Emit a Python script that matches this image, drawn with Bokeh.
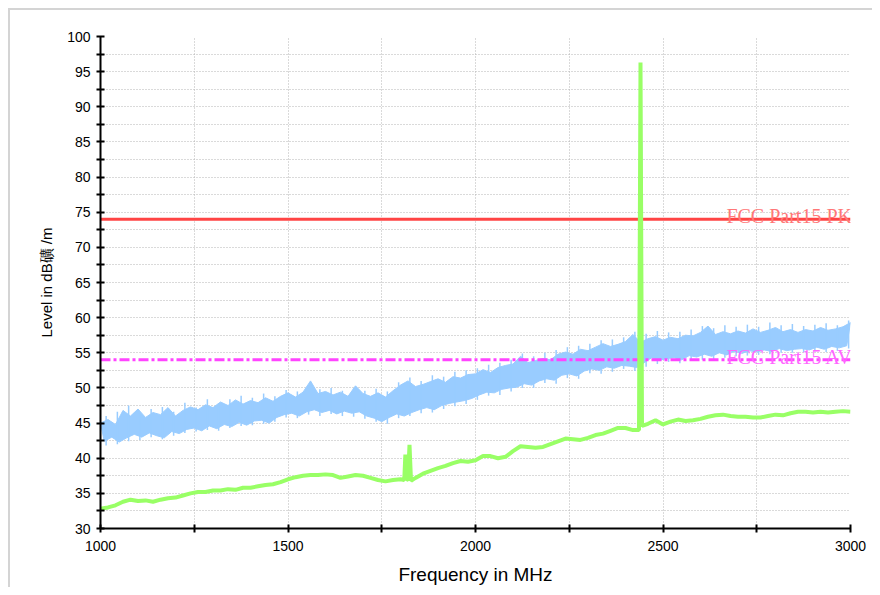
from bokeh.plotting import figure
from bokeh.models import FixedTicker, Label
from bokeh.embed import file_html
from bokeh.resources import INLINE

# ---------------- data ----------------
# Peak trace (blue) as upper envelope (every 20 MHz from 1000) and lower envelope (every 20 MHz from 1010)
blue_hi_f = list(range(1000, 3001, 20))
blue_hi = [45.0, 45.5, 44.8, 46.8, 46.0, 47.0, 45.8, 46.5, 46.2, 47.2,
           46.0, 46.8, 47.3, 46.9, 47.6, 47.2, 48.0, 47.5, 48.3, 47.7,
           48.2, 47.9, 48.6, 48.1, 48.8, 49.3, 48.7, 49.4, 51.0, 49.2,
           49.5, 49.0, 49.4, 48.8, 50.3, 49.2, 48.8, 49.3, 48.7, 49.6,
           50.4, 51.0, 50.2, 50.5, 50.9, 51.3, 50.8, 51.6, 51.4, 51.9,
           52.0, 52.6, 52.2, 52.9, 53.2, 53.4, 54.5, 53.6, 53.9, 54.2,
           54.0, 54.8, 55.1, 54.8, 55.5, 55.3, 55.8, 56.3, 55.9, 56.2,
           56.6, 57.6, 56.5, 57.0, 57.3, 56.8, 57.2, 57.0, 57.5, 57.4,
           57.9, 58.8, 57.6, 58.0, 57.7, 58.1, 57.8, 58.4, 57.9, 58.2,
           58.6, 58.0, 58.3, 57.9, 58.3, 58.1, 58.6, 58.2, 58.4, 58.7,
           59.3]
blue_lo_f = list(range(1010, 3000, 20))
blue_lo = [42.4, 43.0, 42.3, 42.9, 43.4, 43.0, 43.6, 43.2, 42.9, 43.8,
           43.5, 44.1, 44.3, 43.9, 44.6, 44.2, 44.8, 44.5, 45.1, 44.7,
           45.3, 45.4, 45.0, 45.8, 46.2, 46.4, 46.0, 46.6, 46.9, 46.5,
           46.8, 46.3, 46.7, 46.4, 46.6, 46.0, 45.7, 45.2, 45.8, 46.3,
           46.0, 46.5, 46.9, 47.2, 46.9, 47.5, 47.8, 48.0, 48.2, 48.5,
           49.0, 49.4, 49.3, 49.8, 50.0, 50.1, 50.6, 50.4, 51.0, 51.3,
           51.1, 51.8, 52.0, 51.7, 52.4, 52.7, 52.5, 53.0, 52.8, 53.2,
           53.1, 52.9, 53.6, 54.3, 53.9, 54.2, 54.3, 54.0, 54.6, 54.4,
           54.8, 54.5, 55.0, 54.7, 55.2, 54.9, 55.3, 55.1, 55.4, 55.2,
           55.6, 55.3, 55.5, 55.6, 55.4, 55.8, 55.5, 55.9, 55.7, 56.0]
# individual noise spikes of the peak trace (every 30 MHz from 1015): min and max
blue_spike_f = list(range(1015, 3000, 30))
blue_spike_max = [46.0, 46.6, 47.5, 46.4, 47.0, 47.3, 46.6, 47.9, 47.2, 48.4,
                  47.8, 48.4, 48.9, 48.6, 49.2, 48.8, 49.7, 49.5, 50.1, 49.8,
                  50.0, 49.6, 50.0, 49.6, 49.9, 49.5, 50.8, 51.5, 51.0, 51.8,
                  51.6, 52.3, 52.5, 52.8, 53.3, 53.6, 54.0, 54.9, 54.5, 55.0,
                  55.4, 55.8, 56.0, 56.3, 56.8, 56.9, 57.2, 58.0, 57.7, 58.1,
                  57.9, 58.0, 58.3, 58.8, 58.5, 58.9, 58.7, 59.0, 58.7, 59.3,
                  58.9, 59.1, 58.8, 59.0, 59.2, 58.9, 59.6]
blue_spike_min = [41.8, 42.0, 42.4, 42.6, 43.0, 42.7, 43.2, 43.6, 43.8, 44.0,
                  43.9, 44.3, 44.6, 44.7, 44.9, 45.2, 45.8, 45.7, 46.2, 46.0,
                  46.3, 46.0, 45.9, 45.6, 45.2, 44.9, 45.7, 46.0, 46.4, 46.5,
                  47.0, 47.4, 47.7, 48.3, 48.9, 49.0, 49.5, 50.0, 50.0, 50.7,
                  50.6, 51.4, 51.3, 52.1, 52.0, 52.3, 52.7, 52.4, 53.0, 53.4,
                  53.7, 53.5, 54.1, 54.0, 54.1, 54.3, 54.5, 54.6, 54.7, 54.8,
                  55.0, 55.0, 55.1, 55.2, 55.1, 55.3, 55.6]
blue_peak_f = [2441, 2441]
blue_peak = [55.0, 85.0]

# Average trace (green)
green_f = [1000, 1020, 1040, 1060, 1080, 1100, 1120, 1140, 1160, 1180,
           1200, 1220, 1240, 1260, 1280, 1300, 1320, 1340, 1360, 1380,
           1400, 1420, 1440, 1460, 1480, 1500, 1520, 1540, 1560, 1580,
           1600, 1620, 1640, 1660, 1680, 1700, 1720, 1740, 1760, 1780,
           1800, 1810, 1813, 1816, 1820, 1824, 1828, 1840, 1860, 1880,
           1900, 1920, 1940, 1960, 1980, 2000, 2020, 2040, 2060, 2080,
           2100, 2120, 2140, 2160, 2180, 2200, 2220, 2240, 2260, 2280,
           2300, 2320, 2340, 2360, 2380, 2400, 2420, 2436, 2440, 2444,
           2460, 2480, 2500, 2520, 2540, 2560, 2580, 2600, 2620, 2640,
           2660, 2680, 2700, 2720, 2740, 2760, 2780, 2800, 2820, 2840,
           2860, 2880, 2900, 2920, 2940, 2960, 2980, 3000]
green = [32.8, 33.0, 33.3, 33.8, 34.1, 33.9, 34.0, 33.8, 34.1, 34.3,
         34.4, 34.7, 35.0, 35.2, 35.2, 35.4, 35.4, 35.6, 35.5, 35.8,
         35.8, 36.0, 36.2, 36.3, 36.6, 37.0, 37.3, 37.5, 37.6, 37.6,
         37.7, 37.6, 37.2, 37.4, 37.6, 37.5, 37.2, 36.9, 36.7, 36.9,
         37.0, 36.9, 40.5, 36.9, 37.0, 41.9, 36.8, 37.2, 37.8, 38.2,
         38.6, 38.9, 39.3, 39.6, 39.5, 39.7, 40.3, 40.3, 40.0, 40.2,
         41.0, 41.7, 41.6, 41.5, 41.6, 42.0, 42.4, 42.8, 42.7, 42.6,
         42.9, 43.3, 43.5, 43.9, 44.3, 44.3, 44.0, 44.0, 96.3, 44.6,
         44.9, 45.4, 44.8, 45.2, 45.5, 45.3, 45.4, 45.6, 45.9, 46.1,
         46.2, 46.0, 45.9, 45.9, 45.8, 45.8, 46.0, 46.2, 46.1, 46.4,
         46.6, 46.6, 46.5, 46.6, 46.5, 46.6, 46.7, 46.6]

# Limit lines
limit_f = [1000, 3000]
pk_limit = [74, 74]
av_limit = [54, 54]
pk_text = "FCC Part15 PK"
av_text = "FCC Part15 AV"

x_major = [1000, 1500, 2000, 2500, 3000]
x_minor = [1250, 1750, 2250, 2750]
y_major = [30, 35, 40, 45, 50, 55, 60, 65, 70, 75, 80, 85, 90, 95, 100]
y_minor = [32.5, 37.5, 42.5, 47.5, 52.5, 57.5, 62.5, 67.5, 72.5, 77.5, 82.5, 87.5, 92.5, 97.5]

# ---------------- figure ----------------
p = figure(width=872, height=587, output_backend="svg", toolbar_location=None,
           x_range=(1000, 3000), y_range=(30, 100),
           min_border_left=100, min_border_right=22, min_border_top=36, min_border_bottom=52,
           background_fill_color="white", border_fill_color=None,
           styles={"background-color": "white",
                   "box-shadow": "inset 8px 8px 0 0 #ffffff, inset 10px 10px 0 0 #d4d4d4"})
p.outline_line_color = None

font = "Liberation Sans"
for ax in (p.xaxis[0], p.yaxis[0]):
    ax.axis_line_width = 2
    ax.axis_line_color = "black"
    ax.major_tick_line_width = 2
    ax.minor_tick_line_width = 2
    ax.major_tick_in = 4
    ax.major_tick_out = 4
    ax.minor_tick_in = 4
    ax.minor_tick_out = 4
    ax.major_label_text_font = font
    ax.major_label_text_font_size = "14px"
    ax.major_label_text_color = "black"
    ax.axis_label_text_font = font
    ax.axis_label_text_font_style = "normal"
    ax.axis_label_text_color = "black"

p.xaxis.ticker = FixedTicker(ticks=x_major, minor_ticks=x_minor)
p.yaxis.ticker = FixedTicker(ticks=y_major, minor_ticks=y_minor)
p.xaxis.axis_label = "Frequency in MHz"
p.xaxis.axis_label_text_font_size = "19px"
p.xaxis.axis_label_standoff = 10
p.xaxis.major_label_standoff = 8
p.yaxis.axis_label = "Level in dB礦 /m"
p.yaxis.axis_label_text_font_size = "15px"
p.yaxis.axis_label_standoff = 9
p.yaxis.major_label_standoff = 6

for g in (p.xgrid[0], p.ygrid[0]):
    g.grid_line_color = "#b4b4b4"
    g.grid_line_dash = "1 2"
    g.grid_line_width = 1
    g.minor_grid_line_color = "#b4b4b4"
    g.minor_grid_line_dash = "1 2"
    g.minor_grid_line_width = 1

# blue band: upper envelope forward, lower envelope backward
band_x = blue_hi_f + blue_lo_f[::-1]
band_y = blue_hi + blue_lo[::-1]
p.patch(band_x, band_y, fill_color="#99ccff", line_color="#99ccff", line_width=1)
p.segment(x0=blue_spike_f, y0=blue_spike_min, x1=blue_spike_f, y1=blue_spike_max,
          line_color="#99ccff", line_width=1.5)
p.line(blue_peak_f, blue_peak, line_color="#99ccff", line_width=3)

p.line(limit_f, pk_limit, line_color="#ff4444", line_width=3)
p.line(limit_f, av_limit, line_color="#ff44ff", line_width=3, line_dash="10 3 3 3")

p.line(green_f, green, line_color="#99ff66", line_width=4)

p.add_layout(Label(x=2669, y=pk_limit[0], y_offset=3, text=pk_text,
                   text_font="Liberation Serif", text_font_size="20px",
                   text_color="#ff7777", text_baseline="alphabetic"))
p.add_layout(Label(x=2669, y=av_limit[0], y_offset=3, text=av_text,
                   text_font="Liberation Serif", text_font_size="20px",
                   text_color="#ff66ff", text_baseline="alphabetic"))

open("out.html", "w").write(file_html(p, INLINE))
